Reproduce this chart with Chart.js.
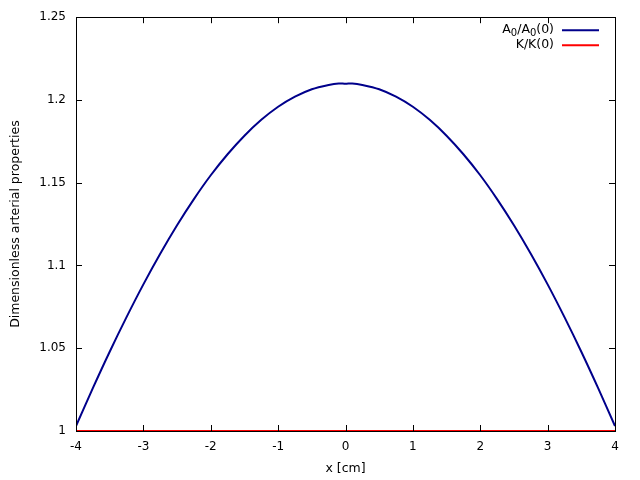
<!DOCTYPE html>
<html>
<head>
<meta charset="utf-8">
<script src="https://cdn.jsdelivr.net/npm/chart.js@4/dist/chart.umd.min.js"></script>
<style>
  html, body { margin: 0; padding: 0; background: #fff; }
  #wrap { width: 640px; height: 480px; }
</style>
</head>
<body>
<div id="wrap"><canvas id="arteryChart" width="640" height="480"></canvas></div>
<script>
// values
const xPos = [-4, -3.75, -3.5, -3.25, -3, -2.75, -2.5, -2.25, -2, -1.75, -1.5, -1.25, -1, -0.75, -0.5, -0.25, -0.1, 0,
              0.1, 0.25, 0.5, 0.75, 1, 1.25, 1.5, 1.75, 2, 2.25, 2.5, 2.75, 3, 3.25, 3.5, 3.75, 4];
const areaRatio = [1.0030, 1.0259, 1.0479, 1.0688, 1.0886, 1.1071, 1.1243, 1.1401, 1.1545, 1.1672, 1.1784, 1.1880, 1.1959, 1.2020, 1.2065, 1.2091, 1.2100, 1.2098,
                   1.2100, 1.2091, 1.2065, 1.2020, 1.1959, 1.1880, 1.1784, 1.1672, 1.1545, 1.1401, 1.1243, 1.1071, 1.0886, 1.0688, 1.0479, 1.0259, 1.0030];
const stiffX = [-4, 4];
const stiffRatio = [1, 1];
const seriesNames = ['A\u2080/A\u2080(0)', 'K/K(0)'];
// same names split into [text, isSubscript] runs for the key
const seriesKeyRuns = [
  [['A', false], ['0', true], ['/A', false], ['0', true], ['(0)', false]],
  [['K/K(0)', false]]
];
const xTicks = [-4, -3, -2, -1, 0, 1, 2, 3, 4];
const yTicks = [1, 1.05, 1.1, 1.15, 1.2, 1.25];

const FONT = 'DejaVu Sans';
const seriesColors = ['#00008b', '#ff0000'];

const toPoints = (xs, ys) => ys.map((y, i) => ({ x: xs[i], y: y }));

// gnuplot-like frame, inward ticks on all sides, and key in the top-right corner
const framePlugin = {
  id: 'frame',
  afterDraw(chart) {
    const ctx = chart.ctx;
    const a = chart.chartArea;
    const xs = chart.scales.x, ys = chart.scales.y;
    const len = 6;
    ctx.save();
    ctx.strokeStyle = '#000';
    ctx.lineWidth = 1;
    ctx.beginPath();
    xTicks.forEach(v => {
      const px = Math.round(xs.getPixelForValue(v)) + 0.5;
      ctx.moveTo(px, a.bottom); ctx.lineTo(px, a.bottom - len);
      ctx.moveTo(px, a.top); ctx.lineTo(px, a.top + len);
    });
    yTicks.forEach(v => {
      const py = Math.round(ys.getPixelForValue(v)) + 0.5;
      ctx.moveTo(a.left, py); ctx.lineTo(a.left + len, py);
      ctx.moveTo(a.right, py); ctx.lineTo(a.right - len, py);
    });
    ctx.stroke();
    ctx.strokeRect(Math.round(a.left) + 0.5, Math.round(a.top) + 0.5,
                   Math.round(a.right - a.left), Math.round(a.bottom - a.top));

    // key
    const mainFont = '12.5px "' + FONT + '"';
    const subFont = '10px "' + FONT + '"';
    ctx.textAlign = 'left';
    ctx.textBaseline = 'middle';
    ctx.fillStyle = '#000';
    seriesKeyRuns.forEach((runs, i) => {
      const y = a.top + 13 + i * 15;
      let w = 0;
      runs.forEach(([t, sub]) => { ctx.font = sub ? subFont : mainFont; w += ctx.measureText(t).width; });
      let x = a.right - 61 - w;
      runs.forEach(([t, sub]) => {
        ctx.font = sub ? subFont : mainFont;
        ctx.fillText(t, x, sub ? y + 3 : y);
        x += ctx.measureText(t).width;
      });
      ctx.strokeStyle = seriesColors[i];
      ctx.lineWidth = 2;
      ctx.beginPath();
      ctx.moveTo(a.right - 53, y);
      ctx.lineTo(a.right - 16, y);
      ctx.stroke();
    });
    ctx.restore();
  }
};

const ctx = document.getElementById('arteryChart').getContext('2d');
new Chart(ctx, {
  type: 'line',
  data: {
    datasets: [
      {
        label: seriesNames[0],
        data: toPoints(xPos, areaRatio),
        borderColor: seriesColors[0],
        borderWidth: 2,
        pointRadius: 0,
        tension: 0.3,
        fill: false
      },
      {
        label: seriesNames[1],
        data: toPoints(stiffX, stiffRatio),
        borderColor: seriesColors[1],
        borderWidth: 2,
        pointRadius: 0,
        fill: false
      }
    ]
  },
  options: {
    responsive: false,
    animation: false,
    devicePixelRatio: 1,
    layout: { padding: { top: 16, right: 25, left: 0, bottom: 0 } },
    plugins: {
      legend: { display: false },
      tooltip: { enabled: false }
    },
    scales: {
      x: {
        type: 'linear',
        min: -4,
        max: 4,
        afterBuildTicks: (scale) => { scale.ticks = xTicks.map(v => ({ value: v })); },
        afterFit: (scale) => { scale.height = 49; },
        grid: { display: false, drawTicks: false },
        border: { display: false },
        ticks: {
          color: '#000',
          padding: 9,
          maxRotation: 0,
          font: { family: FONT, size: 12 },
          callback: (v) => String(v)
        },
        title: {
          display: true,
          text: 'x [cm]',
          color: '#000',
          font: { family: FONT, size: 12.5 },
          padding: { top: 4, bottom: 4 }
        }
      },
      y: {
        type: 'linear',
        min: 1,
        max: 1.25,
        afterBuildTicks: (scale) => { scale.ticks = yTicks.map(v => ({ value: v })); },
        afterFit: (scale) => { scale.width = 76; },
        grid: { display: false, drawTicks: false },
        border: { display: false },
        ticks: {
          color: '#000',
          padding: 10,
          font: { family: FONT, size: 12 },
          callback: (v) => String(Number(v.toFixed(2)))
        },
        title: {
          display: true,
          text: 'Dimensionless arterial properties',
          color: '#000',
          font: { family: FONT, size: 12.5 },
          padding: { top: 8, bottom: 0 }
        }
      }
    }
  },
  plugins: [framePlugin]
});
</script>
</body>
</html>
